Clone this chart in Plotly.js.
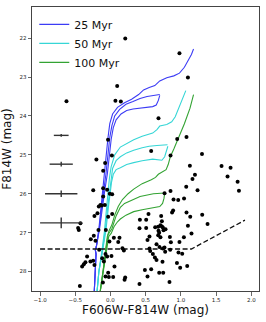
<!DOCTYPE html>
<html><head><meta charset="utf-8">
<script src="https://cdn.plot.ly/plotly-3.0.1.min.js"></script>
<style>html,body{margin:0;padding:0;background:#fff}#chart{width:266px;height:322px}</style>
</head><body><div id="chart"></div>
<script>
// Observed stars: colour F606W-F814W and magnitude F814W
const starColor = [0.21,0.98,1.10,-0.625,0.095,0.07,0.147,0.682,1.08,0.948,-0.035,0.578,1.30,0.853,0.02,-0.2,-0.076,1.128,1.578,1.706,-0.104,1.2,1.663,1.165,1.806,1.076,-0.104,-0.245,-0.047,1.237,0.853,1.825,0.768,-0.01,0.024,-0.104,1.045,0.896,0.962,-0.143,-0.166,-0.123,-0.08,0.89,0.875,1.08,1.133,1.303,0.54,-0.185,-0.228,-0.033,0.024,0.418,0.507,0.72,0.73,0.635,0.678,0.71,0.73,0.744,0.753,0.782,0.682,0.692,1.1,0.412,0.507,1.151,1.379,-0.427,-0.46,-0.45,-0.171,-0.066,0.844,0.71,0.678,0.554,0.526,0.858,0.98,1.043,-0.237,-0.28,-0.213,-0.015,0.048,0.11,0.128,0.654,0.696,0.767,0.17,0.19,0.554,0.564,0.744,0.777,0.848,0.966,1.019,-0.161,-0.071,0.602,-0.047,0.014,-0.332,-0.118,0.631,0.654,0.739,0.944,-0.094,-0.356,-0.379,-0.403,-0.285,-0.246,-0.228,0.057,0.99,1.09,0.489,0.578,0.692,0.749,-0.033,0.209,0.2,0.526,-0.071,-0.023,0.038,-0.108,0.838,0.412,-0.435];
const starMag = [22.01,22.39,23.01,23.62,23.23,23.61,23.63,24.06,24.54,24.59,24.61,24.9,24.98,25.02,25.02,25.12,25.21,25.28,25.29,25.33,25.41,25.51,25.56,25.62,25.69,25.82,25.86,25.91,25.9,25.91,25.93,25.92,25.99,26.0,26.01,26.07,26.12,26.15,26.16,26.29,26.33,26.3,26.29,26.43,26.48,26.48,26.59,26.54,26.52,26.5,26.57,26.59,26.52,26.67,26.67,26.57,26.71,26.86,26.85,26.81,26.84,26.87,26.94,26.91,26.95,27.0,26.82,26.89,26.88,27.02,26.78,26.76,26.88,26.93,26.93,26.93,27.11,27.12,27.07,27.1,27.19,27.25,27.24,27.12,27.08,27.17,27.21,27.23,27.13,27.24,27.13,27.3,27.37,27.38,27.4,27.46,27.41,27.47,27.41,27.49,27.44,27.51,27.54,27.44,27.55,27.55,27.61,27.6,27.61,27.66,27.64,27.7,27.75,27.78,27.74,27.76,27.81,27.87,27.74,27.72,27.83,27.87,27.9,27.86,27.96,27.94,28.03,28.03,28.03,28.15,28.21,28.13,28.13,28.14,28.14,28.28,28.27,28.32,28.37];

// Representative photometric errors
const errColor = [-0.7,-0.7,-0.7,-0.7];
const errMag = [24.5,25.24,26.0,26.75];
const errX = [0.105,0.165,0.23,0.3];
const errY = [0.035,0.06,0.085,0.14];

// Completeness limit (dashed)
const limColor = [-1.0,1.15,1.91];
const limMag = [27.42,27.42,26.68];

// Isochrones 25 Myr
const iso25aX = [-0.23,-0.215,-0.205,-0.215,-0.2,-0.165,-0.135,-0.11,-0.085,-0.06,-0.035,-0.01,0.03,0.1,0.2,0.3,0.4,0.47,0.55,0.63,0.7,0.8,0.9,0.98,1.05,1.1,1.15,1.18];
const iso25aY = [28.5,28.0,27.55,27.45,27.35,26.9,26.3,25.9,25.5,25.0,24.55,24.2,23.95,23.78,23.66,23.57,23.45,23.33,23.27,23.22,23.1,23.02,22.97,22.9,22.75,22.6,22.42,22.28];
const iso25bX = [-0.23,-0.215,-0.205,-0.215,-0.2,-0.16,-0.125,-0.095,-0.065,-0.04,-0.01,0.02,0.06,0.13,0.22,0.32,0.42,0.52,0.62,0.7];
const iso25bY = [28.5,28.0,27.55,27.45,27.35,26.9,26.3,25.9,25.5,25.0,24.55,24.25,24.0,23.83,23.7,23.63,23.55,23.5,23.47,23.45];
const iso25cX = [-0.23,-0.215,-0.205,-0.215,-0.2,-0.155,-0.115,-0.08,-0.045,-0.015,0.01,0.04,0.08,0.15,0.23,0.32,0.42,0.52,0.6,0.65,0.68,0.7];
const iso25cY = [28.5,28.0,27.55,27.45,27.35,26.9,26.3,25.9,25.5,25.0,24.6,24.3,24.1,23.95,23.86,23.82,23.8,23.78,23.76,23.72,23.6,23.47];

// Isochrones 50 Myr
const iso50aX = [-0.19,-0.165,-0.12,-0.085,-0.055,-0.035,-0.015,0.01,0.06,0.14,0.25,0.33,0.45,0.6,0.66,0.7,0.8,0.87,0.92,0.97,1.015,1.05,1.07];
const iso50aY = [28.5,28.0,27.45,26.95,26.35,25.95,25.6,25.3,25.0,24.8,24.68,24.61,24.52,24.44,24.35,24.26,24.22,24.15,24.02,23.8,23.6,23.45,23.35];
const iso50bX = [-0.19,-0.165,-0.115,-0.075,-0.04,-0.015,0.005,0.03,0.08,0.14,0.23,0.33,0.45,0.55,0.66,0.75,0.81];
const iso50bY = [28.5,28.0,27.45,26.95,26.35,25.95,25.6,25.35,25.15,25.05,24.95,24.88,24.82,24.78,24.76,24.74,24.74];
const iso50cX = [-0.19,-0.165,-0.11,-0.065,-0.03,-0.005,0.015,0.04,0.08,0.14,0.23,0.33,0.45,0.6,0.68,0.73,0.77,0.8,0.815];
const iso50cY = [28.5,28.0,27.45,26.95,26.35,25.95,25.7,25.5,25.38,25.33,25.25,25.2,25.15,25.11,25.12,25.14,25.05,24.9,24.78];

// Isochrones 100 Myr
const iso100aX = [-0.145,-0.12,-0.095,-0.07,-0.045,-0.02,0.02,0.06,0.11,0.17,0.25,0.33,0.45,0.58,0.64,0.68,0.74,0.79,0.82,0.85,0.9,0.97,1.05,1.13,1.18];
const iso100aY = [28.5,28.2,27.85,27.45,27.1,26.95,26.8,26.55,26.33,26.15,26.0,25.88,25.74,25.64,25.58,25.5,25.44,25.38,25.25,25.05,24.85,24.55,24.2,23.8,23.45];
const iso100bX = [-0.145,-0.12,-0.095,-0.065,-0.035,-0.005,0.02,0.08,0.14,0.2,0.33,0.42,0.61,0.7,0.77];
const iso100bY = [28.5,28.2,27.85,27.45,27.05,26.95,26.9,26.57,26.35,26.25,26.15,26.07,26.0,25.98,25.98];
const iso100cX = [-0.145,-0.12,-0.095,-0.06,-0.025,0.01,0.05,0.1,0.14,0.22,0.33,0.45,0.6,0.7,0.74,0.76,0.77];
const iso100cY = [28.5,28.2,27.85,27.45,27.1,27.02,26.85,26.72,26.65,26.55,26.46,26.41,26.37,26.33,26.25,26.12,25.98];

const xTicks = [-1.0,-0.5,0.0,0.5,1.0,1.5,2.0];
const yTicks = [22,23,24,25,26,27,28];

const c25 = '#3c3cf5', c50 = '#36d6d6', c100 = '#33a333';
function iso(x,y,color,name,show){
  return {x:x,y:y,type:'scatter',mode:'lines',line:{color:color,width:1.1},name:name,legendgroup:name,showlegend:show,hoverinfo:'skip'};
}
const traces = [
  iso(iso25aX,iso25aY,c25,'25 Myr',true),
  iso(iso25bX,iso25bY,c25,'25 Myr',false),
  iso(iso25cX,iso25cY,c25,'25 Myr',false),
  iso(iso50aX,iso50aY,c50,'50 Myr',true),
  iso(iso50bX,iso50bY,c50,'50 Myr',false),
  iso(iso50cX,iso50cY,c50,'50 Myr',false),
  iso(iso100aX,iso100aY,c100,'100 Myr',true),
  iso(iso100bX,iso100bY,c100,'100 Myr',false),
  iso(iso100cX,iso100cY,c100,'100 Myr',false),
  {x:limColor,y:limMag,type:'scatter',mode:'lines',line:{color:'#111',width:1.3,dash:'5px,2.5px'},showlegend:false},
  {x:starColor,y:starMag,type:'scatter',mode:'markers',marker:{color:'#000',size:4},showlegend:false},
  {x:errColor,y:errMag,type:'scatter',mode:'markers',marker:{color:'#333',size:1,opacity:0},showlegend:false,
   error_x:{type:'data',array:errX,color:'#333',thickness:1.4,width:0},
   error_y:{type:'data',array:errY,color:'#333',thickness:1.4,width:0}}
];
const axBase = {showgrid:false,zeroline:false,showline:true,mirror:true,linecolor:'#444',linewidth:1,
  ticks:'outside',ticklen:3.5,tickwidth:0.8,tickcolor:'#444',tickfont:{family:'DejaVu Sans',size:5.5,color:'#222'}};
const layout = {
  width:266,height:322,margin:{l:32,r:7,t:7,b:31},
  paper_bgcolor:'#fff',plot_bgcolor:'#fff',
  font:{family:'DejaVu Sans',color:'#111'},
  xaxis:Object.assign({},axBase,{range:[-1.115,2.11],tickvals:xTicks,ticktext:xTicks.map(v=>(v<0?'\u2212':'')+Math.abs(v).toFixed(1)),
    title:{text:'F606W-F814W (mag)',font:{family:'DejaVu Sans',size:12,color:'#111'},standoff:3}}),
  yaxis:Object.assign({},axBase,{range:[28.5,21.2],tickvals:yTicks,ticktext:yTicks.map(String),
    title:{text:'F814W (mag)',font:{family:'DejaVu Sans',size:12,color:'#111'},standoff:5}}),
  legend:{x:0.01,y:0.99,xanchor:'left',yanchor:'top',bgcolor:'rgba(0,0,0,0)',font:{family:'DejaVu Sans',size:11,color:'#111'},itemwidth:30,tracegroupgap:0},
  showlegend:true
};
Plotly.newPlot('chart',traces,layout,{displayModeBar:false,staticPlot:true});
</script>
</body></html>
